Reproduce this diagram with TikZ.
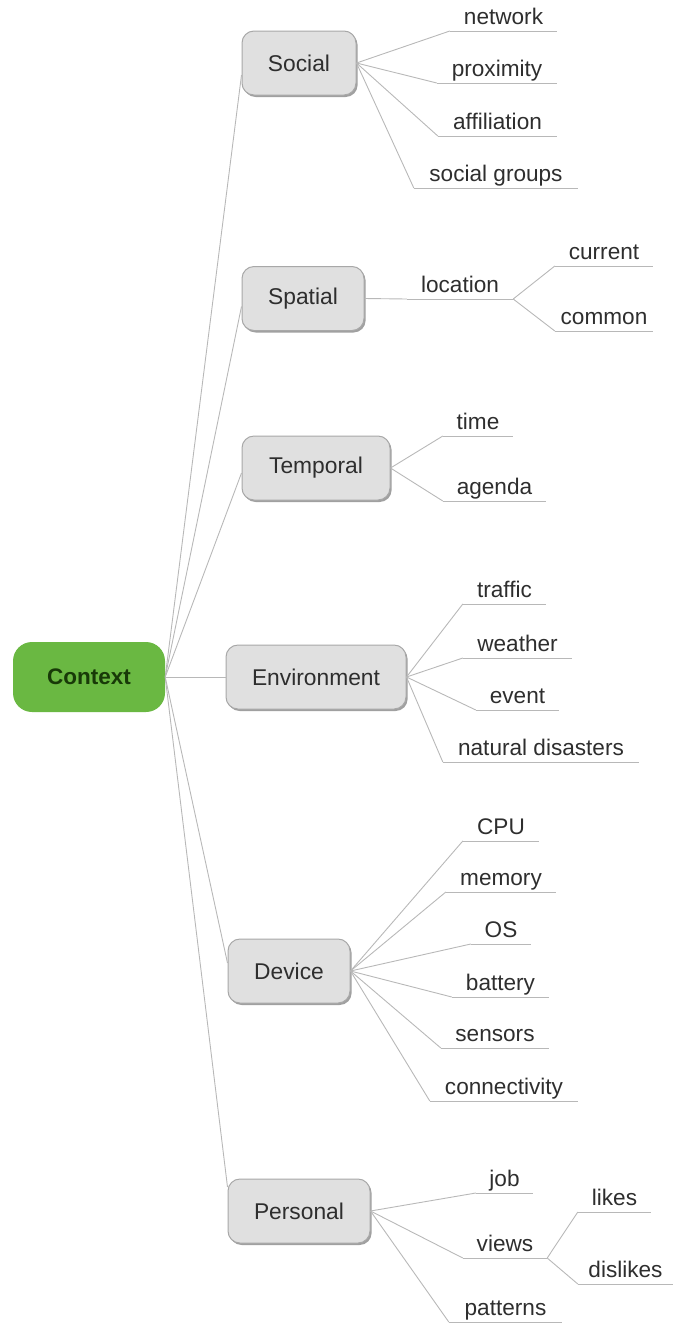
\documentclass[tikz,border=0pt]{standalone}
\usepackage{fontspec}
\setmainfont{Liberation Sans}
\usetikzlibrary{calc,shadows}

\definecolor{rootgreen}{HTML}{6AB842}
\definecolor{roottext}{HTML}{183A08}
\definecolor{topicfill}{HTML}{E0E0E0}
\definecolor{topicedge}{HTML}{A8A8A8}
\definecolor{topicshade}{HTML}{A0A0A0}
\definecolor{linkgray}{HTML}{B8B8B8}
\definecolor{inkgray}{HTML}{2E2E2E}

\tikzset{
  root/.style={rectangle, rounded corners=19pt, fill=rootgreen, draw=none,
    minimum width=152pt, minimum height=70pt, inner sep=0pt,
    text=roottext, font=\fontsize{22.5}{27}\selectfont\bfseries},
  topic/.style={rectangle, rounded corners=12pt, fill=topicfill, draw=topicedge,
    line width=1pt, minimum height=64pt, inner sep=0pt,
    text=inkgray, font=\fontsize{22.8}{27}\selectfont,
    drop shadow={shadow xshift=1.6pt, shadow yshift=-2pt, fill=topicshade, opacity=1}},
  leaf/.style={rectangle, anchor=south, inner xsep=0pt, inner ysep=6pt,
    text depth=0pt, text=inkgray, font=\fontsize{22.6}{27}\selectfont},
  link/.style={draw=linkgray, line width=0.9pt},
}

\begin{document}
\begin{tikzpicture}[x=1pt,y=-1pt]
\useasboundingbox (0,0) rectangle (673,1323);

% central node
\node[root] (ctx) at (89,677) {Context};

% main branches
\node[topic, minimum width=114pt] (social)   at (299,63)    {Social};
\node[topic, minimum width=122pt] (spatial)  at (303,298.5) {Spatial};
\node[topic, minimum width=148pt] (temporal) at (316,468)   {Temporal};
\node[topic, minimum width=180pt] (environ)  at (316,677)   {Environment};
\node[topic, minimum width=122pt] (device)   at (289,971)   {Device};
\node[topic, minimum width=142pt] (personal) at (299,1211)  {Personal};

% leaves (text sits on its own underline)
\node[leaf, minimum width=107pt] (network)   at (503.5,31)  {network};
\node[leaf, minimum width=120pt] (proximity) at (497,83)    {proximity};
\node[leaf, minimum width=119pt] (affil)     at (497.5,136) {affiliation};
\node[leaf, minimum width=164pt] (groups)    at (496,188)   {social groups};

\node[leaf, minimum width=106pt] (location)  at (460,299)   {location};
\node[leaf, minimum width=98pt]  (current)   at (604,266)   {current};
\node[leaf, minimum width=98pt]  (common)    at (604,331)   {common};

\node[leaf, minimum width=70pt]  (time)      at (478,436)   {time};
\node[leaf, minimum width=103pt] (agenda)    at (494.5,501) {agenda};

\node[leaf, minimum width=83pt]  (traffic)   at (504.5,604) {traffic};
\node[leaf, minimum width=109pt] (weather)   at (517.5,658) {weather};
\node[leaf, minimum width=83pt]  (event)     at (517.5,710) {event};
\node[leaf, minimum width=196pt] (disaster)  at (541,762)   {natural disasters};

\node[leaf, minimum width=76pt]  (cpu)       at (501,841)   {CPU};
\node[leaf, minimum width=110pt] (memory)    at (501,892)   {memory};
\node[leaf, minimum width=60pt]  (os)        at (501,944)   {OS};
\node[leaf, minimum width=97pt]  (battery)   at (500.5,997) {battery};
\node[leaf, minimum width=108pt] (sensors)   at (495,1048)  {sensors};
\node[leaf, minimum width=148pt] (connect)   at (504,1101)  {connectivity};

\node[leaf, minimum width=57pt]  (job)       at (504.5,1193) {job};
\node[leaf, minimum width=84pt]  (views)     at (505,1258)  {views};
\node[leaf, minimum width=73pt]  (likes)     at (614.5,1212) {likes};
\node[leaf, minimum width=95pt]  (dislikes)  at (625.5,1284) {dislikes};
\node[leaf, minimum width=113pt] (patterns)  at (505.5,1322) {patterns};

% underlines of the leaves
\foreach \n in {network,proximity,affil,groups,location,current,common,
                time,agenda,traffic,weather,event,disaster,
                cpu,memory,os,battery,sensors,connect,
                job,views,likes,dislikes,patterns}
  \draw[link] (\n.south west) -- (\n.south east);

% root to main branches
\draw[link] (ctx.east) -- ($(social.west)+(0,12)$);
\draw[link] (ctx.east) -- ($(spatial.west)+(0,8)$);
\draw[link] (ctx.east) -- ($(temporal.west)+(0,5)$);
\draw[link] (ctx.east) -- (environ.west);
\draw[link] (ctx.east) -- ($(device.west)+(0,-8)$);
\draw[link] (ctx.east) -- ($(personal.west)+(0,-24)$);

% main branches to leaves
\foreach \n in {network,proximity,affil,groups}
  \draw[link] (social.east) -- (\n.south west);
\draw[link] (spatial.east) -- (location.south west);
\foreach \n in {current,common}
  \draw[link] (location.south east) -- (\n.south west);
\foreach \n in {time,agenda}
  \draw[link] (temporal.east) -- (\n.south west);
\foreach \n in {traffic,weather,event,disaster}
  \draw[link] (environ.east) -- (\n.south west);
\foreach \n in {cpu,memory,os,battery,sensors,connect}
  \draw[link] (device.east) -- (\n.south west);
\foreach \n in {job,views,patterns}
  \draw[link] (personal.east) -- (\n.south west);
\foreach \n in {likes,dislikes}
  \draw[link] (views.south east) -- (\n.south west);
\end{tikzpicture}
\end{document}
